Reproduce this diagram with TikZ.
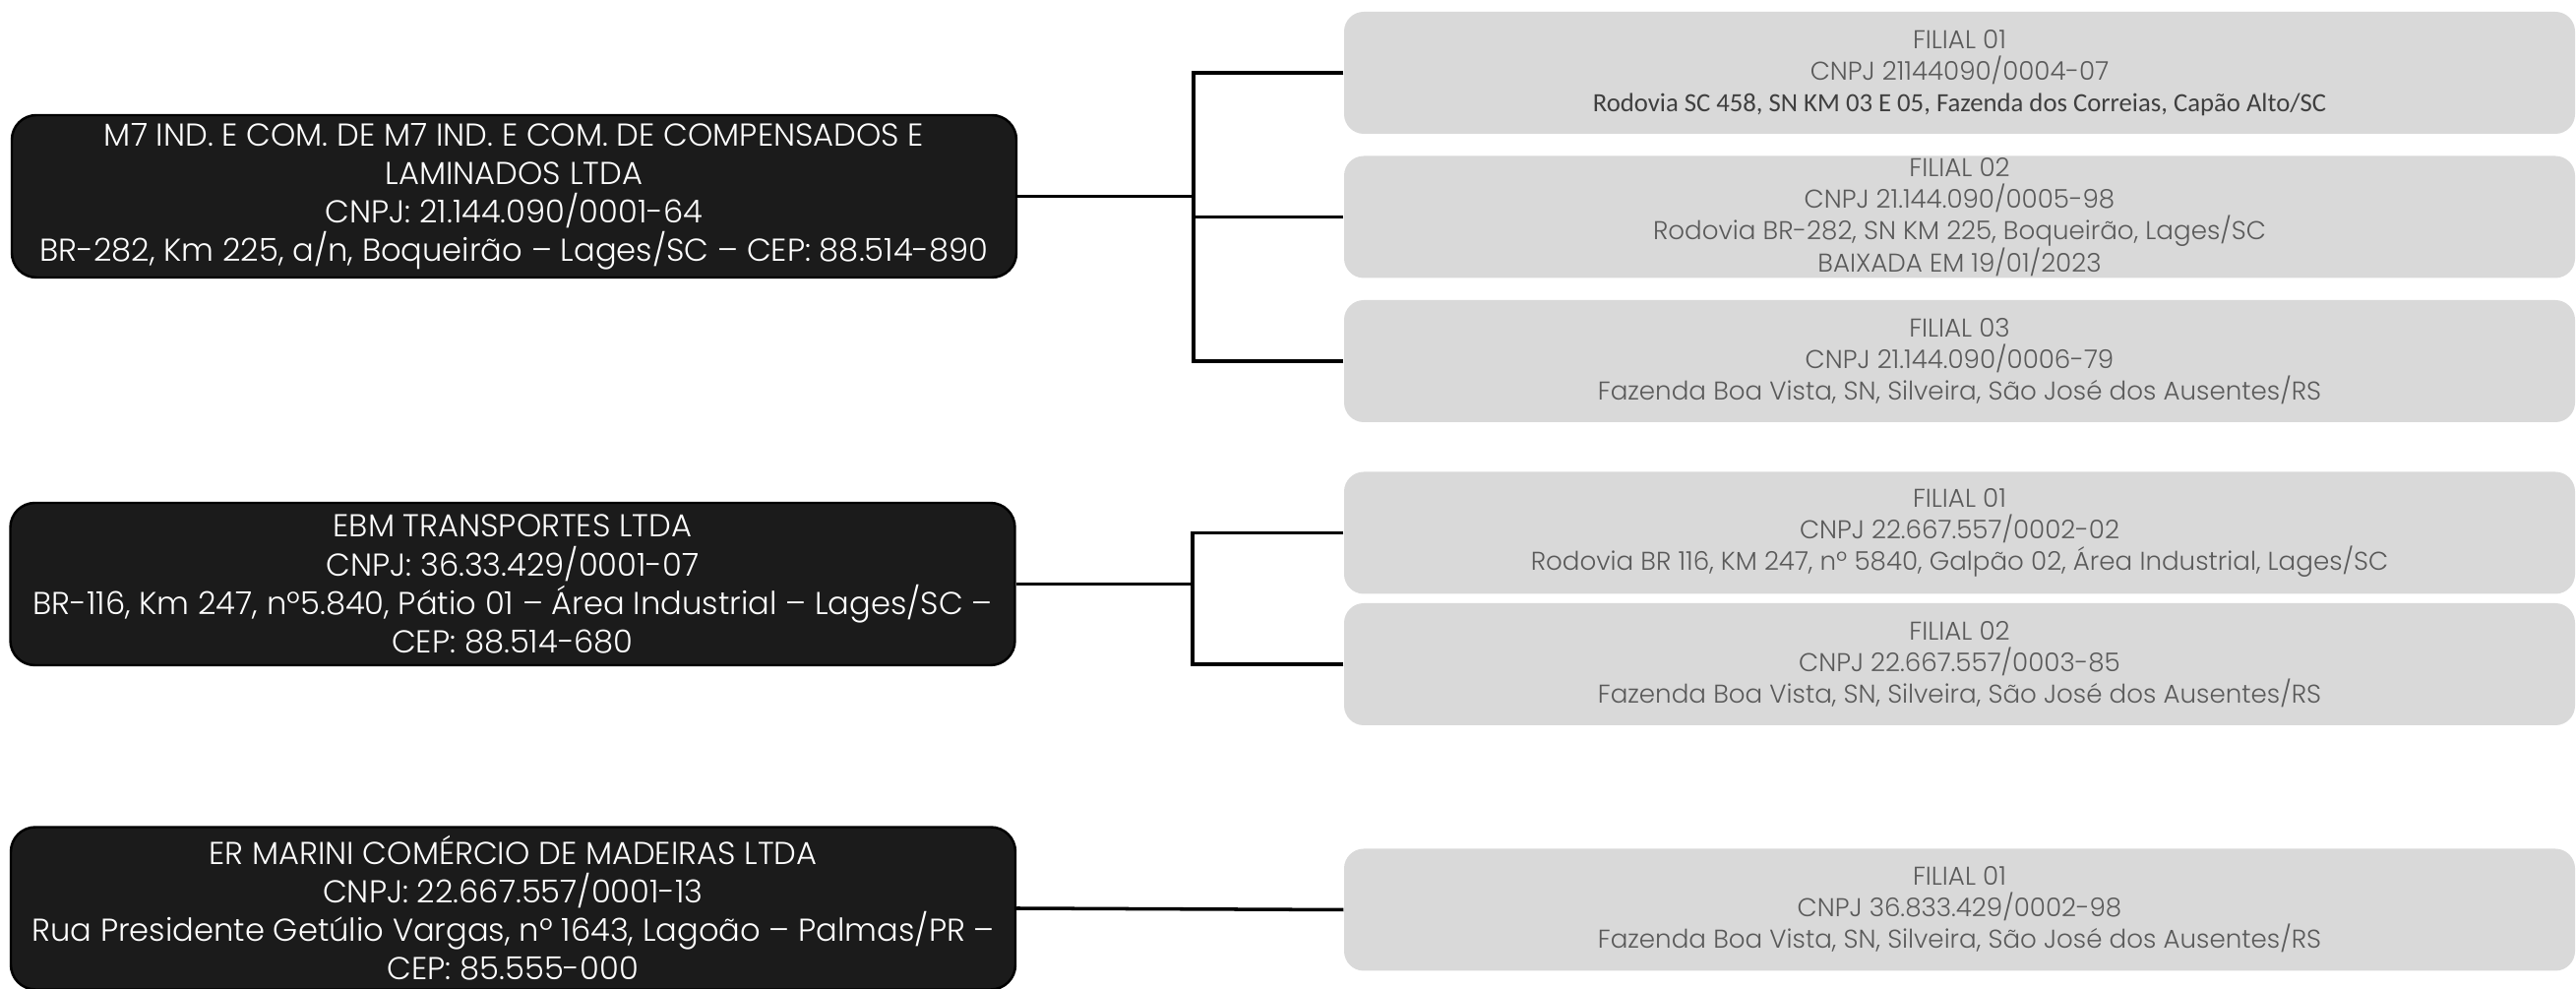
\documentclass[tikz,border=0pt]{standalone}
\usepackage{fontspec}
\setmainfont{Poppins}[UprightFont={* Light}]
\newfontfamily\calib{Carlito}
\usepackage{tikz}

\definecolor{sedefill}{HTML}{1B1B1B}
\definecolor{filfill}{HTML}{D9D9D9}
\definecolor{filtext}{HTML}{5A5A5A}

\begin{document}
\begin{tikzpicture}[
  sede/.style={draw=black,line width=0.7pt,fill=sedefill,text=white,rounded corners=2.5mm,
    minimum width=10.21cm,minimum height=1.65cm,inner sep=0pt,align=center,
    font=\fontsize{9.15}{11.1}\selectfont},
  filial/.style={fill=filfill,text=filtext,rounded corners=2mm,
    minimum width=12.51cm,minimum height=1.24cm,inner sep=0pt,align=center,
    font=\fontsize{7.44}{9.15}\selectfont},
  link/.style={black,line width=1pt}]
\useasboundingbox (0,0) rectangle (26.18,10.05);
\node[sede] (sede1) at (5.225,8.055) {M7 IND. E COM. DE M7 IND. E COM. DE COMPENSADOS E\\LAMINADOS LTDA\\CNPJ: 21.144.090/0001-64\\BR-282, Km 225, a/n, Boqueirão – Lages/SC – CEP: 88.514-890};
\node[sede] (sede2) at (5.21,4.115) {EBM TRANSPORTES LTDA\\CNPJ: 36.33.429/0001-07\\BR-116, Km 247, nº5.840, Pátio 01 – Área Industrial – Lages/SC –\\CEP: 88.514-680};
\node[sede] (sede3) at (5.215,0.82) {ER MARINI COMÉRCIO DE MADEIRAS LTDA\\CNPJ: 22.667.557/0001-13\\Rua Presidente Getúlio Vargas, nº 1643, Lagoão – Palmas/PR –\\CEP: 85.555-000};
\node[filial] (f11) at (19.915,9.31) {FILIAL 01\\CNPJ 21144090/0004-07\\{\calib\fontsize{7.6}{9.15}\selectfont\color{filtext!70!black}Rodovia SC 458, SN KM 03 E 05, Fazenda dos Correias, Capão Alto/SC}};
\node[filial] (f12) at (19.915,7.845) {FILIAL 02\\CNPJ 21.144.090/0005-98\\Rodovia BR-282, SN KM 225, Boqueirão, Lages/SC\\BAIXADA EM 19/01/2023};
\node[filial] (f13) at (19.915,6.38) {FILIAL 03\\CNPJ 21.144.090/0006-79\\Fazenda Boa Vista, SN, Silveira, São José dos Ausentes/RS};
\node[filial] (f21) at (19.915,4.635) {FILIAL 01\\CNPJ 22.667.557/0002-02\\Rodovia BR 116, KM 247, nº 5840, Galpão 02, Área Industrial, Lages/SC};
\node[filial] (f22) at (19.915,3.30) {FILIAL 02\\CNPJ 22.667.557/0003-85\\Fazenda Boa Vista, SN, Silveira, São José dos Ausentes/RS};
\node[filial] (f31) at (19.915,0.805) {FILIAL 01\\CNPJ 36.833.429/0002-98\\Fazenda Boa Vista, SN, Silveira, São José dos Ausentes/RS};
\coordinate (j1) at (12.13,8.055);
\coordinate (j2) at (12.12,4.115);
\draw[link] (sede1.east) -- (j1);
\draw[link] (f11.west) -| (j1);
\draw[link] (f12.west) -| (j1);
\draw[link] (f13.west) -| (j1);
\draw[link] (sede2.east) -- (j2);
\draw[link] (f21.west) -| (j2);
\draw[link] (f22.west) -| (j2);
\draw[link] (sede3.east) -- (f31.west);
\end{tikzpicture}
\end{document}
